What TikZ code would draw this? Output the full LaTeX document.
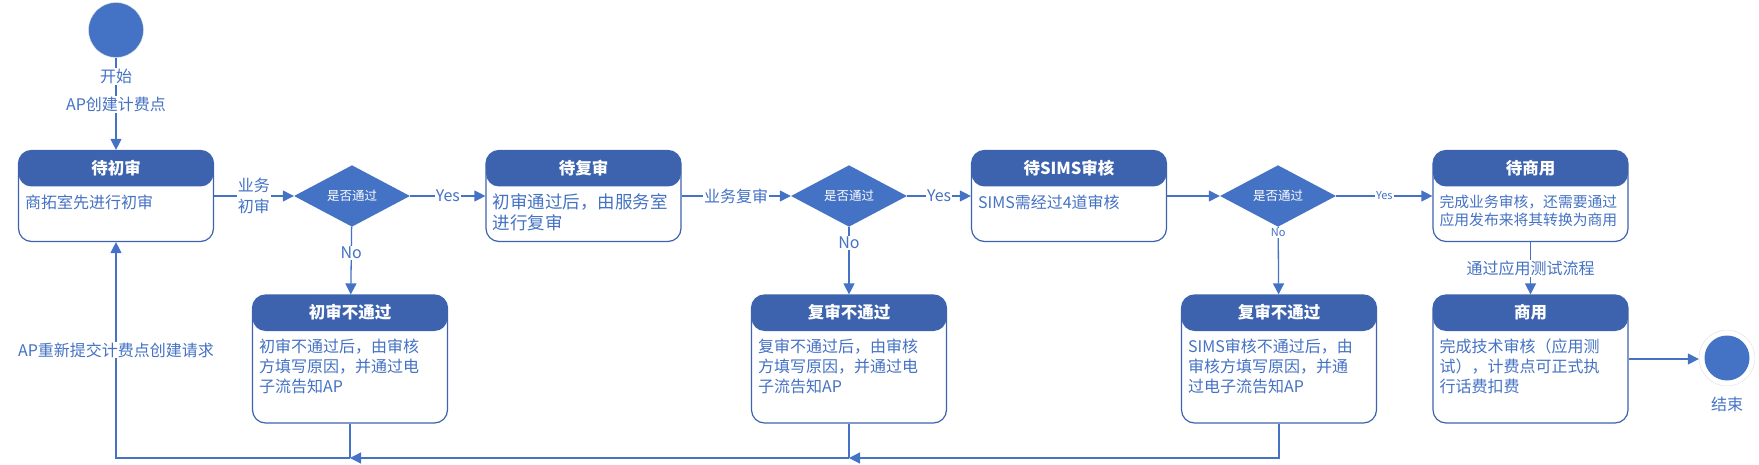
\documentclass[tikz,border=0pt]{standalone}
\usepackage{fontspec}
\setmainfont{Noto Sans CJK SC}
\usetikzlibrary{shapes.geometric,arrows.meta,positioning}
\definecolor{kopfblau}{HTML}{3D63AE}
\definecolor{linienblau}{HTML}{4472C4}
\tikzset{
	zustand/.style={draw=kopfblau, line width=1.2pt, rounded corners=13pt, fill=white,
		minimum width=195pt, inner sep=0pt,
		path picture={\fill[kopfblau] (path picture bounding box.north west) rectangle
			([yshift=-36pt]path picture bounding box.north east);}},
	kopftext/.style={text=white, font=\fontsize{16.5}{18}\selectfont\bfseries, inner sep=0pt},
	inhalt/.style={text=linienblau, font=\fontsize{16}{20}\selectfont, align=left,
		inner sep=0pt, anchor=north west},
	raute/.style={diamond, fill=linienblau, minimum width=116pt, minimum height=56pt,
		inner sep=0pt, text=white, font=\fontsize{12.5}{14}\selectfont},
	pfeil/.style={draw=linienblau, line width=1.3pt, -{Triangle[length=11pt,width=11pt]}},
	linie/.style={draw=linienblau, line width=1.3pt},
	marke/.style={fill=white, text=linienblau, inner sep=1pt, font=\fontsize{16}{21}\selectfont},
	kleinmarke/.style={marke, font=\fontsize{11}{12}\selectfont},
	punkt/.style={circle, fill=linienblau, inner sep=0pt}
}
\begin{document}
\begin{tikzpicture}[x=1pt, y=-1pt]
	\useasboundingbox (0,0) rectangle (1759,465);
	% Start
	\node[punkt, draw=white!75!gray, thin, minimum size=55pt] (start) at (116,30) {};

	% obere Reihe
	\node[zustand, minimum height=91pt] (z1) at (116,196) {};
	\node[kopftext] at ([yshift=-18pt]z1.north) {待初审};
	\node[inhalt] at ([xshift=7pt,yshift=-45pt]z1.north west) {商拓室先进行初审};

	\node[zustand, minimum height=91pt] (z2) at (583.5,196) {};
	\node[kopftext] at ([yshift=-18pt]z2.north) {待复审};
	\node[inhalt, font=\fontsize{17.5}{21}\selectfont] at ([xshift=7pt,yshift=-44pt]z2.north west)
		{初审通过后，由服务室\\进行复审};

	\node[zustand, minimum height=91pt] (z3) at (1069,196) {};
	\node[kopftext] at ([yshift=-18pt]z3.north) {待SIMS审核};
	\node[inhalt] at ([xshift=7pt,yshift=-45pt]z3.north west) {SIMS需经过4道审核};

	\node[zustand, minimum height=91pt] (z4) at (1530.5,196) {};
	\node[kopftext] at ([yshift=-18pt]z4.north) {待商用};
	\node[inhalt, font=\fontsize{14.8}{18}\selectfont] at ([xshift=7pt,yshift=-45pt]z4.north west)
		{完成业务审核，还需要通过\\应用发布来将其转换为商用};

	% Entscheidungen
	\foreach \n/\x in {r1/352, r2/849, r3/1278}
		\node[raute] (\n) at (\x,196) {是否通过};

	% untere Reihe
	\node[zustand, minimum height=128pt] (f1) at (350,359) {};
	\node[kopftext] at ([yshift=-18pt]f1.north) {初审不通过};
	\node[inhalt] at ([xshift=7pt,yshift=-44pt]f1.north west)
		{初审不通过后，由审核\\方填写原因，并通过电\\子流告知AP};

	\node[zustand, minimum height=128pt] (f2) at (849,359) {};
	\node[kopftext] at ([yshift=-18pt]f2.north) {复审不通过};
	\node[inhalt] at ([xshift=7pt,yshift=-44pt]f2.north west)
		{复审不通过后，由审核\\方填写原因，并通过电\\子流告知AP};

	\node[zustand, minimum height=128pt] (f3) at (1279,359) {};
	\node[kopftext] at ([yshift=-18pt]f3.north) {复审不通过};
	\node[inhalt] at ([xshift=7pt,yshift=-44pt]f3.north west)
		{SIMS审核不通过后，由\\审核方填写原因，并通\\过电子流告知AP};

	\node[zustand, minimum height=128pt] (s) at (1530.5,359) {};
	\node[kopftext] at ([yshift=-18pt]s.north) {商用};
	\node[inhalt] at ([xshift=7pt,yshift=-44pt]s.north west)
		{完成技术审核（应用测\\试），计费点可正式执\\行话费扣费};

	% Ende
	\node[circle, draw=white!75!gray, thin, fill=white, minimum size=56pt] (ende) at (1727,358) {};
	\node[punkt, minimum size=45pt] at (ende) {};
	\node[text=linienblau, font=\fontsize{16}{18}\selectfont] (endtext) at (1727,404) {结束};

	% Verbindungen
	\draw[pfeil] (start) -- node[marke, pos=0.2] {开始} node[marke, pos=0.51] {AP创建计费点} (z1);
	\draw[pfeil] (z1) -- node[marke, align=center] {业务\\初审} (r1);
	\draw[pfeil] (r1) -- node[marke] {Yes} (z2);
	\draw[pfeil] (z2) -- node[marke] {业务复审} (r2);
	\draw[pfeil] (r2) -- node[marke] {Yes} (z3);
	\draw[pfeil] (z3) -- (r3);
	\draw[pfeil] (r3) -- node[kleinmarke] {Yes} (z4);
	\draw[pfeil] (r1) -- node[marke, pos=0.39] {No} (f1);
	\draw[pfeil] (r2) -- node[marke, pos=0.24] {No} (f2);
	\draw[pfeil] (r3) -- node[kleinmarke, pos=0.09] {No} (f3);
	\draw[pfeil] (z4) -- node[marke] {通过应用测试流程} (s);
	\draw[pfeil] (s.east) -- (ende.west |- s.east);

	% Rueckweg unten
	\coordinate (k2) at (849,458);
	\coordinate (k1) at (350,458);
	\draw[pfeil] (f3) |- (k2);
	\draw[linie] (f2) -- (k2);
	\draw[pfeil] (k2) -- (k1);
	\draw[linie] (f1) -- (k1);
	\draw[pfeil] (k1) -| node[marke, pos=0.75] {AP重新提交计费点创建请求} (z1);
\end{tikzpicture}
\end{document}
